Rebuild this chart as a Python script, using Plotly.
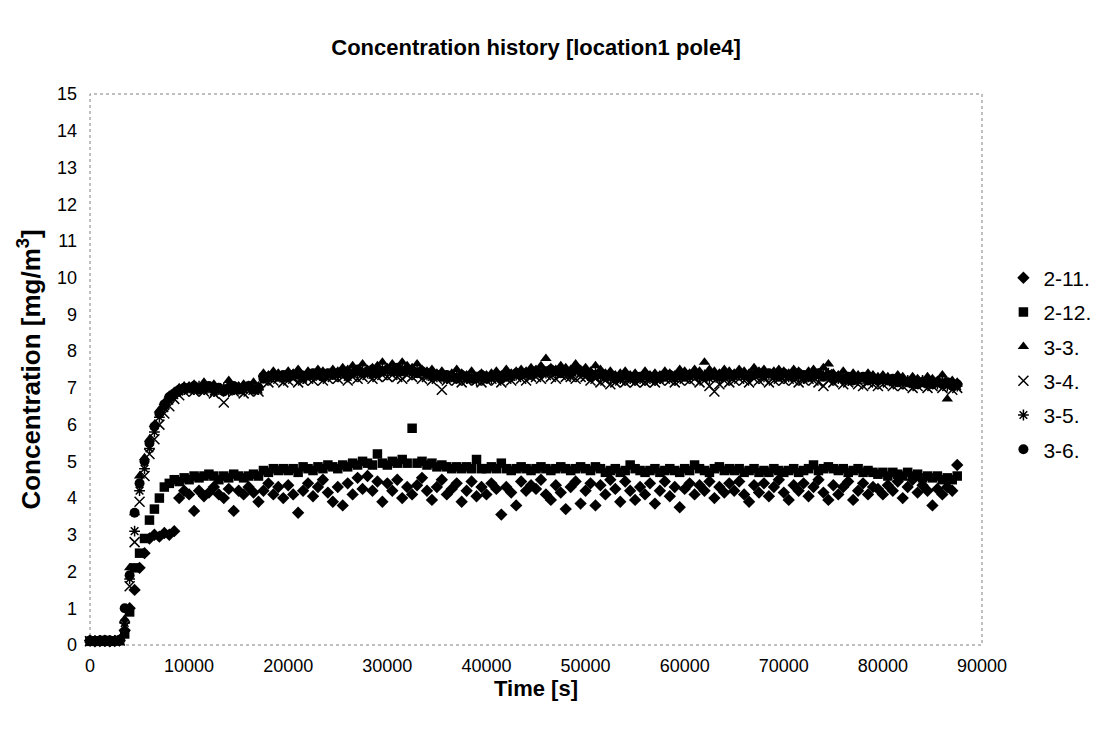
import plotly.graph_objects as go

# Time grid [s]
time_s = list(range(0, 88000, 500))

s_2_11 = [
    0.12, 0.1, 0.11, 0.12, 0.1, 0.11, 0.13, 0.4, 1.0, 1.5,
    2.1, 2.5, 2.9, 3.0, 2.95, 3.05, 3.0, 3.1, 4.0, 4.2,
    4.1, 3.65, 4.2, 4.05, 4.15, 4.3, 4.1, 4.0, 4.25, 3.65,
    4.2, 4.1, 4.3, 4.15, 3.9, 4.2, 4.4, 4.1, 4.3, 4.0,
    4.35, 4.1, 3.6, 4.2, 4.4, 4.05, 4.3, 4.5, 4.15, 3.9,
    4.3, 3.8, 4.4, 4.1, 4.55, 4.25, 4.6, 4.2, 4.45, 3.9,
    4.4, 4.2, 4.5, 4.0, 4.3, 4.1, 4.35, 4.55, 4.2, 3.95,
    4.3, 4.5, 4.1, 4.25, 4.4, 3.9, 4.2, 4.45, 4.05, 4.3,
    4.1, 4.4, 4.25, 3.55, 4.3, 4.15, 3.8, 4.45, 4.2, 4.35,
    4.25, 4.5, 4.1, 3.95, 4.35, 4.15, 3.7, 4.3, 4.45, 3.85,
    4.2, 4.4, 3.8, 4.35, 4.1, 4.5, 4.25, 3.9, 4.45, 4.2,
    3.95, 4.3, 4.1, 4.4, 3.85, 4.2, 4.45, 4.05, 4.3, 3.75,
    4.25, 4.4, 4.1, 4.35, 4.2, 4.45, 4.0, 4.3, 4.15, 4.4,
    4.2, 4.45, 4.1, 3.9, 4.35, 4.15, 4.4, 4.05, 4.3, 4.5,
    4.15, 3.95, 4.35, 4.2, 4.4, 4.05, 4.3, 4.5, 4.15, 3.95,
    4.35, 4.1, 4.3, 4.45, 3.95, 4.2, 4.4, 4.1, 4.3, 4.25,
    4.1, 4.35, 4.2, 4.45, 4.0, 4.3, 4.5, 4.15, 4.35, 4.2,
    3.8, 4.25, 4.1, 4.3, 4.2, 4.9,
]

s_2_12 = [
    0.1, 0.11, 0.1, 0.12, 0.1, 0.11, 0.12, 0.3, 0.9, 2.1,
    2.5, 2.9, 3.4, 3.7, 4.0, 4.3, 4.4, 4.5, 4.45, 4.55,
    4.5, 4.6, 4.55, 4.6, 4.65, 4.6, 4.5, 4.6, 4.55, 4.65,
    4.6, 4.55, 4.6, 4.65, 4.6, 4.75, 4.7, 4.8, 4.75, 4.8,
    4.75, 4.8, 4.7, 4.85, 4.8, 4.75, 4.85, 4.8, 4.9, 4.85,
    4.8, 4.9, 4.85, 4.95, 4.9, 5.0, 4.95, 4.9, 5.2, 4.95,
    4.9, 5.0, 4.95, 5.05, 4.95, 5.9, 4.95, 5.0, 4.9, 4.95,
    4.85, 4.9, 4.85, 4.8, 4.85, 4.8, 4.85, 4.8, 5.05, 4.8,
    4.8, 4.85, 4.8, 4.95, 4.8, 4.75, 4.8, 4.85, 4.8, 4.75,
    4.8, 4.85, 4.8, 4.75, 4.8, 4.85, 4.8, 4.75, 4.8, 4.85,
    4.8, 4.75, 4.85, 4.8, 4.7, 4.75, 4.8, 4.7, 4.75, 4.9,
    4.8, 4.75, 4.7, 4.75, 4.8, 4.7, 4.75, 4.8, 4.75, 4.7,
    4.8, 4.75, 4.9, 4.8, 4.75, 4.7, 4.8, 4.85, 4.75, 4.8,
    4.75, 4.8, 4.7, 4.75, 4.8, 4.7, 4.75, 4.7, 4.8, 4.75,
    4.7, 4.75, 4.8, 4.7, 4.75, 4.8, 4.9, 4.75, 4.8, 4.85,
    4.8, 4.75, 4.8, 4.7, 4.75, 4.8, 4.7, 4.75, 4.7, 4.65,
    4.7, 4.6, 4.7, 4.65, 4.6, 4.7, 4.6, 4.65, 4.55, 4.6,
    4.55, 4.6, 4.5, 4.55, 4.5, 4.6,
]

s_3_3 = [
    0.12, 0.12, 0.13, 0.12, 0.12, 0.13, 0.15, 0.7, 2.1, 3.6,
    4.6, 5.1, 5.6, 6.0, 6.4, 6.6, 6.8, 6.9, 7.0, 7.05,
    7.05, 7.1, 7.0, 7.15, 7.05, 7.1, 7.0, 6.95, 7.2, 7.05,
    7.05, 7.1, 7.0, 7.15, 7.05, 7.4, 7.35, 7.45, 7.4, 7.35,
    7.45, 7.4, 7.5, 7.35, 7.45, 7.4, 7.5, 7.45, 7.4, 7.5,
    7.45, 7.55, 7.5, 7.6, 7.45, 7.65, 7.5, 7.55, 7.6, 7.7,
    7.55, 7.65, 7.5, 7.7, 7.6, 7.55, 7.65, 7.5, 7.45, 7.5,
    7.4, 7.45, 7.35, 7.4, 7.5, 7.4, 7.35, 7.45, 7.3, 7.4,
    7.35, 7.4, 7.45, 7.35, 7.5, 7.4, 7.45, 7.5, 7.45, 7.55,
    7.5, 7.6, 7.8, 7.55, 7.5, 7.6, 7.55, 7.5, 7.65, 7.5,
    7.55, 7.45, 7.6, 7.5, 7.4, 7.45, 7.35, 7.4, 7.45, 7.35,
    7.4, 7.3, 7.45, 7.35, 7.4, 7.35, 7.45, 7.4, 7.35, 7.5,
    7.45, 7.4, 7.5, 7.45, 7.7, 7.5, 7.45, 7.4, 7.5, 7.45,
    7.4, 7.5, 7.45, 7.4, 7.55, 7.45, 7.5, 7.4, 7.45, 7.5,
    7.45, 7.4, 7.5, 7.45, 7.35, 7.45, 7.5, 7.4, 7.55, 7.65,
    7.4, 7.35, 7.45, 7.3, 7.4, 7.35, 7.3, 7.4, 7.35, 7.3,
    7.35, 7.3, 7.25, 7.35, 7.3, 7.2, 7.3, 7.25, 7.2, 7.3,
    7.25, 7.2, 7.35, 6.7, 7.2, 7.15,
]

s_3_4 = [
    0.1, 0.11, 0.1, 0.12, 0.11, 0.1, 0.12, 0.5, 1.6, 2.8,
    3.9, 4.6, 5.2, 5.6, 6.0, 6.3, 6.5, 6.7, 6.8, 6.9,
    6.95, 6.9, 7.0, 6.9, 6.95, 6.85, 6.9, 6.6, 6.95, 6.9,
    6.95, 6.85, 6.9, 6.95, 6.9, 7.2, 7.15, 7.2, 7.25, 7.15,
    7.2, 7.25, 7.15, 7.2, 7.25, 7.2, 7.3, 7.2, 7.25, 7.3,
    7.25, 7.3, 7.2, 7.3, 7.25, 7.3, 7.35, 7.25, 7.3, 7.35,
    7.3, 7.35, 7.3, 7.25, 7.35, 7.3, 7.35, 7.25, 7.3, 7.2,
    7.25, 6.95, 7.2, 7.25, 7.2, 7.15, 7.2, 7.25, 7.2, 7.15,
    7.2, 7.25, 7.2, 7.15, 7.25, 7.2, 7.3, 7.25, 7.2, 7.3,
    7.3, 7.25, 7.35, 7.3, 7.25, 7.35, 7.3, 7.3, 7.25, 7.3,
    7.3, 7.2, 7.25, 7.15, 7.2, 7.1, 7.15, 7.2, 7.15, 7.2,
    7.15, 7.2, 7.15, 7.2, 7.15, 7.2, 7.25, 7.2, 7.15, 7.2,
    7.25, 7.2, 7.25, 7.15, 7.2, 7.05, 6.9, 7.1, 7.2, 7.15,
    7.2, 7.25, 7.2, 7.15, 7.25, 7.2, 7.25, 7.15, 7.2, 7.25,
    7.2, 7.25, 7.2, 7.15, 7.2, 7.25, 7.2, 7.15, 7.05, 7.2,
    7.15, 7.2, 7.1, 7.15, 7.2, 7.1, 7.05, 7.15, 7.1, 7.05,
    7.1, 7.15, 7.05, 7.1, 7.05, 7.1, 7.0, 7.05, 7.1, 7.0,
    7.05, 7.1, 7.0, 7.05, 6.95, 7.0,
]

s_3_5 = [
    0.11, 0.12, 0.11, 0.1, 0.12, 0.11, 0.13, 0.6, 1.8, 3.1,
    4.2, 4.8, 5.35, 5.8, 6.2, 6.45, 6.65, 6.8, 6.9, 6.95,
    7.0, 6.95, 7.05, 6.95, 7.0, 6.9, 6.95, 7.0, 6.9, 6.95,
    7.0, 6.95, 7.05, 7.0, 6.95, 7.3, 7.25, 7.3, 7.35, 7.25,
    7.3, 7.35, 7.3, 7.25, 7.35, 7.3, 7.4, 7.3, 7.35, 7.4,
    7.35, 7.4, 7.3, 7.45, 7.4, 7.45, 7.4, 7.35, 7.45, 7.5,
    7.45, 7.5, 7.4, 7.5, 7.45, 7.4, 7.5, 7.4, 7.35, 7.3,
    7.3, 7.35, 7.25, 7.3, 7.35, 7.3, 7.25, 7.3, 7.2, 7.25,
    7.3, 7.25, 7.35, 7.3, 7.35, 7.3, 7.35, 7.4, 7.35, 7.4,
    7.4, 7.45, 7.4, 7.45, 7.4, 7.45, 7.4, 7.35, 7.45, 7.4,
    7.4, 7.35, 7.4, 7.3, 7.35, 7.25, 7.3, 7.25, 7.3, 7.25,
    7.3, 7.25, 7.3, 7.25, 7.3, 7.25, 7.35, 7.3, 7.25, 7.3,
    7.35, 7.3, 7.35, 7.3, 7.35, 7.25, 7.3, 7.25, 7.35, 7.3,
    7.3, 7.35, 7.3, 7.35, 7.4, 7.35, 7.3, 7.35, 7.3, 7.4,
    7.35, 7.3, 7.35, 7.3, 7.25, 7.3, 7.35, 7.3, 7.35, 7.4,
    7.3, 7.25, 7.3, 7.2, 7.25, 7.2, 7.25, 7.3, 7.2, 7.25,
    7.2, 7.25, 7.15, 7.2, 7.15, 7.2, 7.1, 7.15, 7.2, 7.1,
    7.15, 7.1, 7.2, 7.05, 7.1, 7.05,
]

s_3_6 = [
    0.12, 0.11, 0.12, 0.13, 0.12, 0.11, 0.14, 1.0, 1.9, 3.6,
    4.4, 5.0, 5.5, 5.95, 6.3, 6.55, 6.75, 6.85, 6.95, 7.0,
    7.0, 7.05, 6.95, 7.0, 7.05, 6.95, 7.0, 6.9, 7.0, 7.05,
    6.95, 7.0, 7.05, 6.95, 7.0, 7.25, 7.3, 7.35, 7.3, 7.35,
    7.3, 7.35, 7.4, 7.3, 7.35, 7.4, 7.35, 7.3, 7.4, 7.35,
    7.4, 7.45, 7.35, 7.4, 7.5, 7.4, 7.45, 7.5, 7.4, 7.45,
    7.5, 7.45, 7.55, 7.45, 7.5, 7.45, 7.4, 7.45, 7.4, 7.35,
    7.35, 7.3, 7.35, 7.3, 7.25, 7.35, 7.3, 7.25, 7.3, 7.35,
    7.25, 7.3, 7.35, 7.25, 7.3, 7.35, 7.4, 7.35, 7.4, 7.35,
    7.45, 7.4, 7.45, 7.5, 7.45, 7.4, 7.45, 7.4, 7.5, 7.45,
    7.4, 7.3, 7.35, 7.4, 7.3, 7.35, 7.25, 7.3, 7.35, 7.3,
    7.25, 7.3, 7.35, 7.3, 7.25, 7.3, 7.3, 7.35, 7.3, 7.35,
    7.3, 7.35, 7.4, 7.35, 7.3, 7.4, 7.35, 7.3, 7.4, 7.35,
    7.35, 7.4, 7.35, 7.3, 7.35, 7.4, 7.35, 7.4, 7.35, 7.3,
    7.4, 7.35, 7.3, 7.4, 7.35, 7.3, 7.35, 7.4, 7.3, 7.35,
    7.25, 7.3, 7.25, 7.3, 7.2, 7.25, 7.3, 7.2, 7.25, 7.2,
    7.25, 7.2, 7.25, 7.15, 7.2, 7.15, 7.2, 7.1, 7.15, 7.2,
    7.1, 7.15, 7.1, 7.15, 7.05, 7.1,
]

series_names = ["2-11.", "2-12.", "3-3.", "3-4.", "3-5.", "3-6."]
series_values = [s_2_11, s_2_12, s_3_3, s_3_4, s_3_5, s_3_6]
x_ticks = list(range(0, 100000, 10000))
y_ticks = list(range(0, 16))

styles = [
    dict(symbol="diamond", size=9.5, color="black"),
    dict(symbol="square", size=9.5, color="black"),
    dict(symbol="triangle-up", size=10, color="black"),
    dict(symbol="x-thin-open", size=10, color="black", line=dict(color="black", width=1.5)),
    dict(symbol="asterisk-open", size=9, color="black", line=dict(color="black", width=1.5)),
    dict(symbol="circle", size=10, color="black"),
]

FONT = "Liberation Sans, Arial, sans-serif"

fig = go.Figure()
for name, vals, st in zip(series_names, series_values, styles):
    fig.add_trace(go.Scatter(
        x=time_s, y=vals, name=name, mode="markers",
        marker=st, cliponaxis=False, legendgroup=name,
    ))

fig.update_layout(
    width=1109, height=730,
    margin=dict(l=90, r=127, t=94, b=85, autoexpand=False),
    paper_bgcolor="white", plot_bgcolor="white",
    font=dict(family=FONT, color="black", size=18),
    title=dict(text="<b>Concentration history [location1 pole4]</b>",
               x=0.5, xref="paper", xanchor="center", y=0.935, yanchor="middle",
               font=dict(size=22, family=FONT, color="black")),
    showlegend=True,
    legend=dict(x=1.024, xanchor="left", y=0.703, yanchor="top",
                font=dict(size=21, family=FONT, color="black"),
                tracegroupgap=4, bgcolor="rgba(0,0,0,0)"),
    xaxis=dict(range=[0, 90000], tickvals=x_ticks, ticktext=[str(v) for v in x_ticks],
               showgrid=False, zeroline=False, showline=False, ticks="",
               ticklabelstandoff=8,
               tickfont=dict(size=18, family=FONT, color="black"),
               title=dict(text="<b>Time [s]</b>", font=dict(size=22, family=FONT, color="black"), standoff=5)),
    yaxis=dict(range=[0, 15], tickvals=y_ticks, ticktext=[str(v) for v in y_ticks],
               showgrid=False, zeroline=False, showline=False, ticks="",
               ticklabelstandoff=12,
               tickfont=dict(size=18, family=FONT, color="black"),
               title=dict(text="<b>Concentration [mg/m<sup>3</sup>]</b>", font=dict(size=26, family=FONT, color="black"), standoff=8)),
    shapes=[dict(type="rect", xref="paper", yref="paper", x0=0, y0=0, x1=1, y1=1,
                 line=dict(color="#808080", width=1, dash="dot"), layer="below")],
)

fig.write_html("out.html")
